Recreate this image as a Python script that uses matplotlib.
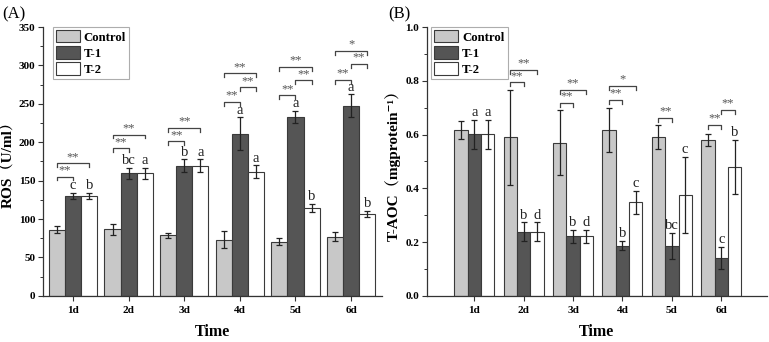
import matplotlib
matplotlib.use("Agg")
import matplotlib.pyplot as plt
import numpy as np
from matplotlib.ticker import MultipleLocator

# ---------------- data ----------------
days = ["1d", "2d", "3d", "4d", "5d", "6d"]
groups = ["Control", "T-1", "T-2"]

ros_control = [85.9, 86.7, 78.9, 72.9, 70.7, 76.8]
ros_t1 = [130.5, 159.6, 169.6, 210.8, 233.2, 247.2]
ros_t2 = [130.5, 159.6, 169.6, 161.7, 114.1, 106.7]
ros_control_err = [4.4, 7.0, 3.5, 11.0, 4.0, 6.0]
ros_t1_err = [4.0, 7.0, 8.0, 21.5, 7.7, 15.0]
ros_t2_err = [4.0, 7.0, 8.0, 8.0, 5.6, 3.7]
ros_t1_letters = ["c", "bc", "b", "a", "a", "a"]
ros_t2_letters = ["b", "a", "a", "a", "b", "b"]
# (day index, bar i, bar j, height, label)
ros_brackets = [
    (0, 0, 1, 155.3, "**"), (0, 0, 2, 172.6, "**"),
    (1, 0, 1, 192.1, "**"), (1, 0, 2, 210.0, "**"),
    (2, 0, 1, 201.3, "**"), (2, 0, 2, 218.9, "**"),
    (3, 0, 1, 252.8, "**"), (3, 1, 2, 271.5, "**"), (3, 0, 2, 289.7, "**"),
    (4, 0, 1, 261.1, "**"), (4, 1, 2, 280.6, "**"), (4, 0, 2, 298.0, "**"),
    (5, 0, 1, 281.0, "**"), (5, 1, 2, 301.8, "**"), (5, 0, 2, 319.0, "*"),
]

taoc_control = [0.617, 0.590, 0.570, 0.617, 0.592, 0.579]
taoc_t1 = [0.601, 0.239, 0.221, 0.186, 0.186, 0.141]
taoc_t2 = [0.601, 0.239, 0.221, 0.348, 0.374, 0.479]
taoc_control_err = [0.035, 0.177, 0.120, 0.083, 0.045, 0.023]
taoc_t1_err = [0.053, 0.034, 0.025, 0.017, 0.049, 0.042]
taoc_t2_err = [0.053, 0.034, 0.025, 0.042, 0.142, 0.100]
taoc_t1_letters = ["a", "b", "b", "b", "bc", "c"]
taoc_t2_letters = ["a", "d", "d", "c", "c", "b"]
taoc_brackets = [
    (1, 0, 1, 0.794, "**"), (1, 0, 2, 0.840, "**"),
    (2, 0, 1, 0.718, "**"), (2, 0, 2, 0.765, "**"),
    (3, 0, 1, 0.729, "**"), (3, 0, 2, 0.780, "*"),
    (4, 0, 1, 0.663, "**"),
    (5, 0, 1, 0.636, "**"), (5, 1, 2, 0.690, "**"),
]

# ---------------- style ----------------
SERIF = ["Liberation Serif", "Noto Serif CJK SC", "Noto Sans CJK SC", "DejaVu Serif"]
plt.rcParams["font.family"] = SERIF
plt.rcParams["mathtext.fontset"] = "stix"
colors = ["#c8c8c8", "#555555", "#ffffff"]
edge = "#3a3a3a"

fig = plt.figure(figsize=(7.69, 3.42), dpi=100)
axA = fig.add_axes([0.056, 0.135, 0.441, 0.786])
axB = fig.add_axes([0.555, 0.135, 0.442, 0.786])


def draw(ax, vals, errs, letters, brackets, width, ylim, major, minor,
         ylabel, xlim, letter_pad, br_tick, star_pad, yfmt, leg_x):
    x = np.arange(1, len(days) + 1)
    offs = [-width, 0, width]
    for k in range(3):
        ax.bar(x + offs[k], vals[k], width, color=colors[k], edgecolor=edge,
               linewidth=0.8, label=groups[k], zorder=2)
        ax.errorbar(x + offs[k], vals[k], yerr=errs[k], fmt="none",
                    ecolor="#222222", elinewidth=0.9, capsize=2.5,
                    capthick=0.9, zorder=3)
    for k, lets in ((1, letters[0]), (2, letters[1])):
        for i, t in enumerate(lets):
            ax.text(x[i] + offs[k], vals[k][i] + errs[k][i] + letter_pad, t,
                    ha="center", va="bottom", fontsize=10.5,
                    family=SERIF, color="#222222", zorder=4)
    for (d, i, j, h, lab) in brackets:
        x0 = x[d] + offs[i]
        x1 = x[d] + offs[j]
        ax.plot([x0, x0, x1, x1], [h - br_tick, h, h, h - br_tick],
                color="#444444", lw=0.9, zorder=4)
        ax.text((x0 + x1) / 2, h + star_pad, lab, ha="center", va="bottom",
                fontsize=9, color="#555555", family=SERIF, zorder=4)
    ax.set_xlim(*xlim)
    ax.set_ylim(*ylim)
    ax.set_xticks(x)
    ax.set_xticklabels(days, fontsize=8, fontweight="bold")
    ax.yaxis.set_major_locator(MultipleLocator(major))
    ax.yaxis.set_minor_locator(MultipleLocator(minor))
    ax.yaxis.set_major_formatter(plt.FuncFormatter(yfmt))
    for lbl in ax.get_yticklabels():
        lbl.set_fontweight("bold")
        lbl.set_fontsize(8)
    ax.tick_params(axis="both", which="major", direction="out", length=3.5,
                   width=0.8, color="#333333", pad=2)
    ax.tick_params(axis="y", which="minor", direction="out", length=2,
                   width=0.7, color="#333333")
    ax.tick_params(axis="x", which="major", pad=4)
    for s in ("top", "right"):
        ax.spines[s].set_visible(False)
    for s in ("left", "bottom"):
        ax.spines[s].set_linewidth(0.9)
        ax.spines[s].set_color("#333333")
    ax.set_ylabel(ylabel, fontsize=11, fontweight="bold", labelpad=3)
    ax.set_xlabel("Time", fontsize=11.5, fontweight="bold", labelpad=6)
    leg = ax.legend(loc="upper left", bbox_to_anchor=(leg_x, 1.0),
                    prop={"family": SERIF, "weight": "bold", "size": 9.2},
                    handlelength=1.9, handleheight=1.1, handletextpad=0.3,
                    labelspacing=0.2, borderpad=0.25, borderaxespad=0.0,
                    frameon=True, fancybox=False, edgecolor="#999999")
    leg.get_frame().set_linewidth(0.8)
    leg.set_zorder(1)


draw(axA, [ros_control, ros_t1, ros_t2],
     [ros_control_err, ros_t1_err, ros_t2_err],
     [ros_t1_letters, ros_t2_letters], ros_brackets,
     0.29, (0, 350), 50, 25, "ROS（U/ml）", (0.46, 6.56), 1.0, 5.0, 0.5,
     lambda v, p: f"{v:.0f}", 0.028)
draw(axB, [taoc_control, taoc_t1, taoc_t2],
     [taoc_control_err, taoc_t1_err, taoc_t2_err],
     [taoc_t1_letters, taoc_t2_letters], taoc_brackets,
     0.27, (0, 1.0), 0.2, 0.1, "T-AOC（mgprotein⁻¹）", (0.04, 6.92), 0.003,
     0.015, 0.002, lambda v, p: f"{v:.1f}", 0.012)

fig.text(0.003, 0.935, "(A)", fontsize=12, family=SERIF, va="bottom")
fig.text(0.505, 0.935, "(B)", fontsize=12, family=SERIF, va="bottom")

fig.savefig("out.png", dpi=100)
